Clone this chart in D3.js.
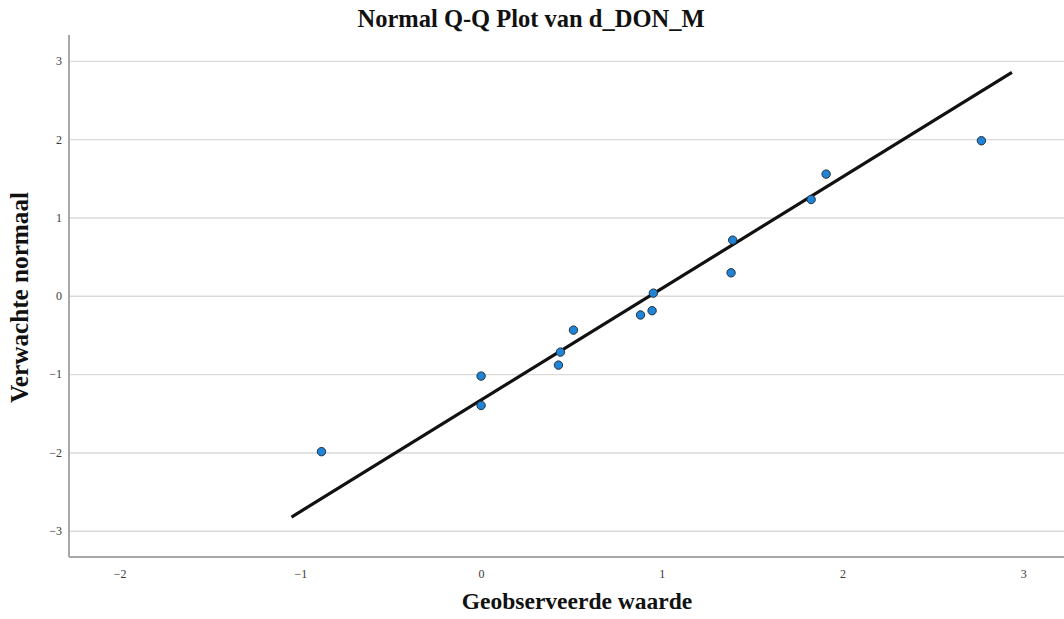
<!DOCTYPE html>
<html>
<head>
<meta charset="utf-8">
<script src="https://cdn.jsdelivr.net/npm/d3@7"></script>
<style>
  html,body{margin:0;padding:0;background:#fff;}
  svg{display:block;}
  .tick text{font-family:"Liberation Serif","Times New Roman",serif;font-size:12px;fill:#3a3a3a;}
  .grid line{stroke:#dadada;stroke-width:1.4px;}
  .grid .domain{display:none;}
  .title{font-family:"Liberation Serif",serif;font-weight:bold;font-size:24.5px;fill:#111;}
  .axis-title{font-family:"Liberation Serif",serif;font-weight:bold;fill:#111;}
</style>
</head>
<body>
<div id="chart"></div>
<script>
/* Normal Q-Q plot: observed value vs expected normal, with reference line */
var observed=[-0.883,0.0,0.0,0.428,0.439,0.511,0.882,0.946,0.953,1.383,1.392,1.826,1.909,2.768];
var expected=[-1.99,-1.40,-1.025,-0.885,-0.719,-0.438,-0.245,-0.19,0.034,0.294,0.711,1.23,1.554,1.98];
var lineX=[-1.049,2.937];
var lineY=[-2.825,2.852];
var xTicks=[-2,-1,0,1,2,3];
var yTicks=[-3,-2,-1,0,1,2,3];

var W=1064,H=619;
var m={top:35,right:0,bottom:62,left:69};
var width=W-m.left-m.right, height=H-m.top-m.bottom;

var svg=d3.select("#chart").append("svg").attr("width",W).attr("height",H);
var g=svg.append("g").attr("transform","translate("+m.left+","+m.top+")");

var x=d3.scaleLinear().domain([-2.28,3.225]).range([0,width]);
var y=d3.scaleLinear().domain([-3.335,3.33]).range([height,0]);

// horizontal gridlines
g.append("g").attr("class","grid")
  .call(d3.axisLeft(y).tickValues(yTicks).tickSize(-width).tickFormat(""));

// tick labels
var ya=g.append("g").call(d3.axisLeft(y).tickValues(yTicks).tickSize(0).tickPadding(7).tickFormat(d3.format("d")));
ya.select(".domain").remove();
var xa=g.append("g").attr("transform","translate(0,"+height+")")
  .call(d3.axisBottom(x).tickValues(xTicks).tickSize(0).tickPadding(12).tickFormat(d3.format("d")));
xa.select(".domain").remove();

// axis lines
g.append("line").attr("x1",0).attr("x2",0).attr("y1",0).attr("y2",height)
  .attr("stroke","#a8a8a8").attr("stroke-width",2);
g.append("line").attr("x1",0).attr("x2",width).attr("y1",height).attr("y2",height)
  .attr("stroke","#a8a8a8").attr("stroke-width",2);

// reference line
g.append("line")
  .attr("x1",x(lineX[0])).attr("y1",y(lineY[0]))
  .attr("x2",x(lineX[1])).attr("y2",y(lineY[1]))
  .attr("stroke","#111").attr("stroke-width",3.2).attr("stroke-linecap","butt");

// points
var pts=observed.map(function(d,i){return {x:d,y:expected[i]};});
g.selectAll("circle.pt").data(pts).enter().append("circle").attr("class","pt")
  .attr("cx",function(d){return x(d.x);}).attr("cy",function(d){return y(d.y);})
  .attr("r",4.2).attr("fill","#1f84d6").attr("stroke","#20303f").attr("stroke-width",1);

// titles
svg.append("text").attr("class","title").attr("x",531).attr("y",27).attr("text-anchor","middle")
  .text("Normal Q-Q Plot van d_DON_M");
svg.append("text").attr("class","axis-title").attr("x",577).attr("y",609).attr("text-anchor","middle")
  .style("font-size","23.5px").text("Geobserveerde waarde");
svg.append("text").attr("class","axis-title").attr("transform","translate(28,297.5) rotate(-90)")
  .attr("text-anchor","middle").style("font-size","25.2px").text("Verwachte normaal");
</script>
</body>
</html>
